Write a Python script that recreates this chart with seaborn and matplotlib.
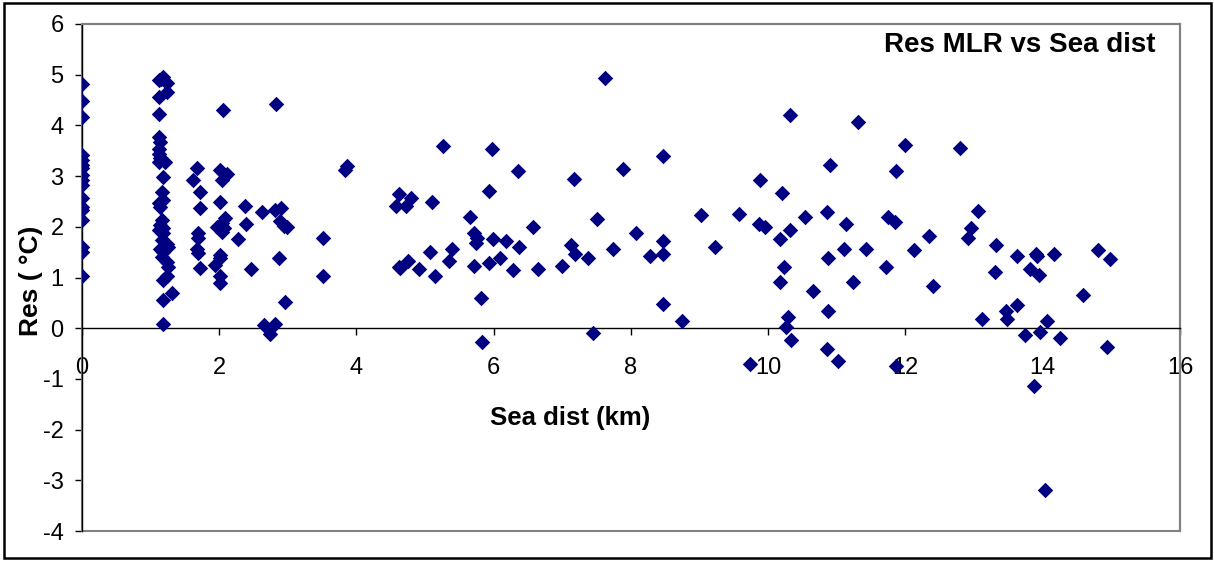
import matplotlib
matplotlib.use("Agg")
import matplotlib.pyplot as plt
from matplotlib.patches import Rectangle
import seaborn as sns
import pandas as pd

# ---- data ----
sea_dist = [
    0, 0, 0, 0, 0, 0, 0, 0, 0, 0, 0, 0, 0, 0, 0, 0, 0,
    1.19, 1.12, 1.24, 1.15, 1.24, 1.12, 1.13, 1.13, 1.14, 1.13, 1.13, 1.14, 1.13, 1.21,
    1.18, 1.17, 1.19, 1.13, 1.14, 1.17, 1.14, 1.19, 1.13, 1.19, 1.17, 1.24, 1.14, 1.26,
    1.19, 1.17, 1.24, 1.26, 1.24, 1.19, 1.31, 1.19, 1.19,
    1.68, 1.62, 1.72, 1.72, 1.70, 1.70, 1.68, 1.70, 1.72,
    2.06, 2.02, 2.11, 2.05, 2.01, 2.09, 1.97, 2.04, 2.04, 2.01, 2.01, 1.94, 2.01, 2.02, 2.08,
    2.38, 2.39, 2.28, 2.46,
    2.83, 2.62, 2.82, 2.91, 2.89, 2.95, 2.99, 2.87, 2.96, 2.65, 2.74, 2.82,
    3.51, 3.51, 3.86, 3.84,
    7.63, 5.26, 5.97, 7.89, 6.36, 7.17, 5.94, 4.62, 4.79, 4.58, 4.73, 5.10, 5.65, 7.51,
    6.57, 5.72, 5.76, 5.75, 5.99, 6.18, 6.37, 7.13, 7.19, 7.74, 5.40, 5.07, 5.35, 4.75,
    4.64, 4.62, 4.91, 5.15, 5.72, 5.94, 6.10, 6.29, 6.65, 7.00, 7.38, 5.81, 5.83, 7.45,
    10.32, 11.31, 11.99, 8.47, 10.90, 11.86, 9.88, 10.20, 9.02, 9.58, 10.86, 10.53, 11.75,
    11.85, 9.86, 9.96, 11.13, 8.08, 8.47, 10.32, 10.18, 9.23, 11.10, 11.42, 12.12, 8.28,
    8.47, 10.87, 10.23, 11.72, 10.18, 11.23, 10.66, 8.47, 8.74, 10.87, 10.29, 10.26,
    10.34, 10.86, 11.02, 9.73, 11.86,
    12.80, 13.06, 12.95, 12.91, 12.35, 13.32, 13.62, 13.90, 13.92, 14.17, 14.80, 14.98,
    13.81, 13.95, 13.30, 12.40, 14.58, 13.62, 13.46, 13.48, 13.11, 14.06, 13.74, 13.96,
    14.25, 14.93, 13.87, 14.03,
]
res = [
    4.82, 4.49, 4.17, 3.41, 3.31, 3.22, 3.15, 3.02, 2.92, 2.82, 2.56, 2.40, 2.33, 2.13, 1.61, 1.51, 1.02,
    4.96, 4.89, 4.84, 4.92, 4.65, 4.56, 4.23, 3.77, 3.67, 3.54, 3.44, 3.35, 3.28, 3.28,
    2.99, 2.69, 2.53, 2.46, 2.40, 2.13, 2.03, 1.97, 1.94, 1.87, 1.74, 1.67, 1.57, 1.61,
    1.51, 1.41, 1.31, 1.21, 1.02, 0.95, 0.69, 0.56, 0.09,
    3.15, 2.92, 2.69, 2.38, 1.88, 1.77, 1.57, 1.48, 1.18,
    4.31, 3.13, 3.05, 2.92, 2.48, 2.17, 2.00, 2.07, 1.90, 1.44, 1.38, 1.25, 1.02, 0.89, 1.98,
    2.41, 2.05, 1.75, 1.17,
    4.43, 2.30, 2.33, 2.38, 2.12, 2.01, 1.99, 1.39, 0.51, 0.07, -0.11, 0.09,
    1.78, 1.02, 3.20, 3.13,
    4.93, 3.59, 3.54, 3.14, 3.10, 2.95, 2.70, 2.64, 2.56, 2.41, 2.41, 2.48, 2.19, 2.15,
    2.00, 1.88, 1.77, 1.69, 1.75, 1.72, 1.61, 1.65, 1.46, 1.57, 1.57, 1.50, 1.33, 1.33,
    1.18, 1.21, 1.17, 1.03, 1.23, 1.28, 1.39, 1.14, 1.17, 1.23, 1.39, 0.59, -0.28, -0.10,
    4.20, 4.06, 3.62, 3.40, 3.22, 3.10, 2.92, 2.67, 2.23, 2.26, 2.29, 2.19, 2.20,
    2.09, 2.05, 2.00, 2.05, 1.87, 1.72, 1.94, 1.75, 1.61, 1.57, 1.57, 1.54, 1.42,
    1.46, 1.39, 1.20, 1.20, 0.91, 0.92, 0.73, 0.48, 0.14, 0.33, 0.23, 0.03,
    -0.23, -0.41, -0.65, -0.71, -0.74,
    3.56, 2.31, 1.98, 1.77, 1.82, 1.64, 1.42, 1.46, 1.42, 1.46, 1.54, 1.36,
    1.17, 1.05, 1.10, 0.84, 0.66, 0.45, 0.34, 0.18, 0.18, 0.14, -0.14, -0.08,
    -0.20, -0.37, -1.14, -3.19,
]
x_ticks = [0, 2, 4, 6, 8, 10, 12, 14, 16]
y_ticks = [-4, -3, -2, -1, 0, 1, 2, 3, 4, 5, 6]
title = "Res MLR vs Sea dist"
x_label = "Sea dist (km)"
y_label = "Res ( °C)"

df = pd.DataFrame({"sea_dist": sea_dist, "res": res})

sns.set_style("white")
plt.rcParams["font.family"] = ["Liberation Sans", "DejaVu Sans"]
plt.rcParams["text.color"] = "black"
plt.rcParams["xtick.color"] = "black"
plt.rcParams["ytick.color"] = "black"

W, H = 1214, 561
fig = plt.figure(figsize=(W / 100, H / 100), dpi=100)
left, right, top, bottom = 81.7, 1180, 24, 531
ax = fig.add_axes([left / W, (H - bottom) / H, (right - left) / W, (bottom - top) / H])

sns.scatterplot(data=df, x="sea_dist", y="res", ax=ax, marker="D",
                color="#000080", s=62, linewidth=0, legend=False, zorder=3)

ax.set_xlim(0, 16)
ax.set_ylim(-4, 6)
ax.set_xticks(x_ticks)
ax.set_yticks(y_ticks)
ax.set_xticklabels([str(t) for t in x_ticks])
ax.set_yticklabels([str(t) for t in y_ticks])
ax.set_xlabel("")
ax.set_ylabel("")

for s in ["top", "right", "bottom", "left"]:
    ax.spines[s].set_visible(True)
ax.spines["bottom"].set_position(("data", 0))
ax.spines["bottom"].set_color("black")
ax.spines["bottom"].set_linewidth(1.0)
ax.spines["left"].set_color("black")
ax.spines["left"].set_linewidth(1.0)
ax.spines["top"].set_color("#808080")
ax.spines["right"].set_color("#808080")
ax.spines["top"].set_linewidth(1.5)
ax.spines["right"].set_linewidth(1.5)
ax.add_patch(Rectangle((0, 0), 1, 1, transform=ax.transAxes, fill=False,
                       edgecolor="#808080", linewidth=1.5, clip_on=False, zorder=1))

ax.tick_params(axis="x", direction="out", length=5, width=1, color="black",
               labelcolor="black", labelsize=17, pad=16)
ax.tick_params(axis="y", direction="out", length=5, width=1, color="black",
               labelcolor="black", labelsize=17, pad=8, left=True)
ax.tick_params(axis="x", bottom=True)

ax.text(0.978, 0.985, title, transform=ax.transAxes, ha="right", va="top",
        fontsize=20, fontweight="bold", color="black")
fig.text(570 / W, 1 - 418 / H, x_label, ha="center", va="center",
         fontsize=18.5, fontweight="bold", color="black")
fig.text(31 / W, 1 - 281 / H, y_label, ha="center", va="center",
         rotation=90, fontsize=19, fontweight="bold", color="black")

fig.add_artist(Rectangle((4 / W, 3 / H), (W - 7) / W, (H - 6) / H,
                         transform=fig.transFigure, fill=False,
                         edgecolor="black", linewidth=1.8))

fig.savefig("out.png", dpi=100)
